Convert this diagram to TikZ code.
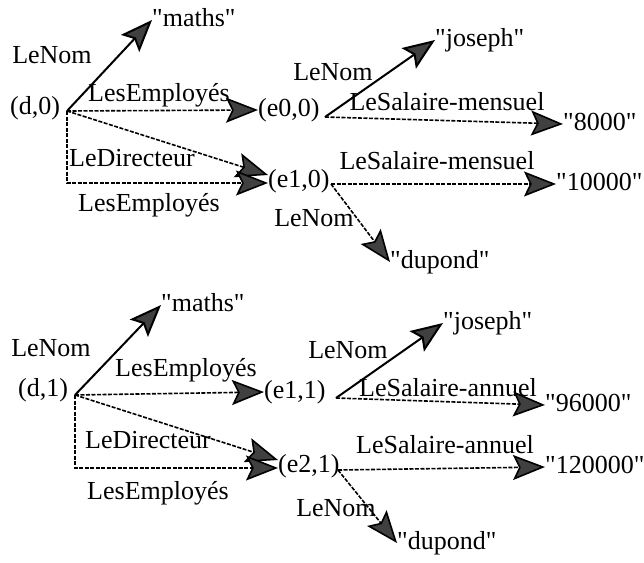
\documentclass[tikz,border=0pt]{standalone}
\usepackage{fontspec}
\setmainfont{Liberation Serif}
\usetikzlibrary{arrows.meta}
\newcommand{\qq}[1]{\textquotedbl#1\textquotedbl}
\begin{document}
\begin{tikzpicture}[x=1pt,y=-1pt,
  every node/.style={font=\fontsize{26}{28}\selectfont, inner sep=0pt, text height=18pt, text depth=5.5pt},
  tipped/.style={-{Stealth[length=32pt,width=25pt,inset=6pt,fill=black!75]}},
  solidarc/.style={tipped, line width=2pt},
  dasharc/.style={tipped, line width=1.6pt, dash pattern=on 4pt off 1.5pt},
]
\useasboundingbox (0,0) rectangle (644,562);
% ---------- top graph ----------
\node[anchor=west] (d0) at (10,108) {(d,0)};
\coordinate (v0) at (67,111);
\node[anchor=west] (m0) at (152,20) {\qq{maths}};
\node[anchor=west] (e00) at (258,110) {(e0,0)};
\node[anchor=west] (e10) at (268,181) {(e1,0)};
\coordinate (v00) at (325,117);
\coordinate (v10) at (331,184);
\node[anchor=west] (jo0) at (435,40) {\qq{joseph}};
\node[anchor=west] (s0) at (563,124) {\qq{8000}};
\node[anchor=west] (s1) at (556,184) {\qq{10000}};
\node[anchor=west] (du0) at (390,262) {\qq{dupond}};
\node (l1) at (52,57) {LeNom};
\node (l2) at (159,95) {LesEmployés};
\node (l3) at (132,160) {LeDirecteur};
\node (l4) at (149,205) {LesEmployés};
\node (l5) at (333,74) {LeNom};
\node (l6) at (447,104) {LeSalaire-mensuel};
\node (l7) at (437,163) {LeSalaire-mensuel};
\node (l8) at (314,220) {LeNom};
\draw[solidarc] (v0) -- (m0.west);
\draw[dasharc] (v0) -- (e00.west);
\draw[dasharc] (v0) -- ([yshift=6pt]e10.west);
\draw[dasharc] (v0) |- ([yshift=-2pt]e10.west);
\draw[solidarc] (v00) -- (jo0.west);
\draw[dasharc] (v00) -- (s0.west);
\draw[dasharc] (v10) -- (s1.west);
\draw[dasharc] (v10) -- (du0.west);
% ---------- bottom graph ----------
\node[anchor=west] (d1) at (18,390) {(d,1)};
\coordinate (v1) at (75,395);
\node[anchor=west] (m1) at (161,305) {\qq{maths}};
\node[anchor=west] (e11) at (264,392) {(e1,1)};
\node[anchor=west] (e21) at (278,466) {(e2,1)};
\coordinate (v11) at (336,398);
\coordinate (v21) at (338,470);
\node[anchor=west] (jo1) at (443,323) {\qq{joseph}};
\node[anchor=west] (s2) at (545,405) {\qq{96000}};
\node[anchor=west] (s3) at (545,467) {\qq{120000}};
\node[anchor=west] (du1) at (397,543) {\qq{dupond}};
\node (k1) at (51,350) {LeNom};
\node (k2) at (186,370) {LesEmployés};
\node (k3) at (148,442) {LeDirecteur};
\node (k4) at (158,493) {LesEmployés};
\node (k5) at (348,352) {LeNom};
\node (k6) at (448,390) {LeSalaire-annuel};
\node (k7) at (445,447) {LeSalaire-annuel};
\node (k8) at (336,510) {LeNom};
\draw[solidarc] (v1) -- (m1.west);
\draw[dasharc] (v1) -- (e11.west);
\draw[dasharc] (v1) -- ([yshift=6pt]e21.west);
\draw[dasharc] (v1) |- ([yshift=-2pt]e21.west);
\draw[solidarc] (v11) -- (jo1.west);
\draw[dasharc] (v11) -- (s2.west);
\draw[dasharc] (v21) -- (s3.west);
\draw[dasharc] (v21) -- (du1.west);
\end{tikzpicture}
\end{document}
